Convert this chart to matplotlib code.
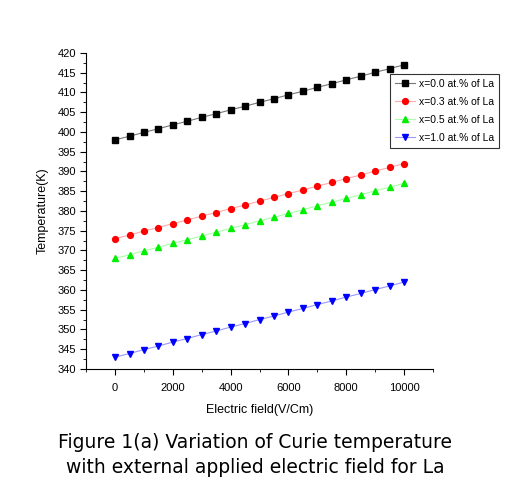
import matplotlib
matplotlib.use('Agg')
import matplotlib.pyplot as plt
from matplotlib.ticker import MultipleLocator

plt.rcParams['font.family'] = ['Liberation Sans', 'DejaVu Sans']

# electric field (V/Cm)
field = [0, 500, 1000, 1500, 2000, 2500, 3000, 3500, 4000, 4500, 5000,
         5500, 6000, 6500, 7000, 7500, 8000, 8500, 9000, 9500, 10000]

# Curie temperature (K) per La content
t_00 = [398.0, 398.9, 399.9, 400.8, 401.8, 402.7, 403.7, 404.6, 405.6, 406.5, 407.5,
        408.4, 409.4, 410.3, 411.3, 412.2, 413.2, 414.1, 415.1, 416.0, 417.0]
t_03 = [373.0, 373.9, 374.9, 375.8, 376.8, 377.7, 378.7, 379.6, 380.6, 381.5, 382.5,
        383.4, 384.4, 385.3, 386.3, 387.2, 388.2, 389.1, 390.1, 391.0, 392.0]
t_05 = [368.0, 368.9, 369.9, 370.8, 371.8, 372.7, 373.7, 374.6, 375.6, 376.5, 377.5,
        378.4, 379.4, 380.3, 381.3, 382.2, 383.2, 384.1, 385.1, 386.0, 387.0]
t_10 = [343.0, 343.9, 344.9, 345.8, 346.8, 347.7, 348.7, 349.6, 350.6, 351.5, 352.5,
        353.4, 354.4, 355.3, 356.3, 357.2, 358.2, 359.1, 360.1, 361.0, 362.0]

labels = ['x=0.0 at.% of La', 'x=0.3 at.% of La', 'x=0.5 at.% of La', 'x=1.0 at.% of La']

fig = plt.figure(figsize=(5.1, 5.04), dpi=100)
ax = fig.add_axes([0.169, 0.268, 0.680, 0.627])

series = [(t_00, 's', 'black', '#777777'),
          (t_03, 'o', 'red', '#ffaaaa'),
          (t_05, '^', '#00ee00', '#aaffaa'),
          (t_10, 'v', 'blue', '#9999ff')]
for (vals, mk, mc, lc), lab in zip(series, labels):
    ax.plot(field, vals, '-', color=lc, lw=0.8, marker=mk, markersize=4.2,
            markerfacecolor=mc, markeredgecolor=mc, label=lab)

ax.set_xlim(-1000, 11000)
ax.set_ylim(340, 420)
ax.xaxis.set_major_locator(MultipleLocator(2000))
ax.xaxis.set_minor_locator(MultipleLocator(1000))
ax.yaxis.set_major_locator(MultipleLocator(5))
ax.yaxis.set_minor_locator(MultipleLocator(2.5))
ax.spines['top'].set_visible(False)
ax.spines['right'].set_visible(False)
ax.tick_params(which='major', direction='out', length=4, labelsize=8)
ax.tick_params(which='minor', direction='out', length=2)
ax.tick_params(axis='x', pad=6)

ax.set_xlabel('Electric field(V/Cm)', fontsize=9, labelpad=8)
ax.set_ylabel('Temperature(K)', fontsize=9, labelpad=6)

leg = ax.legend(loc='upper left', bbox_to_anchor=(0.86, 0.95), fontsize=7.5,
                frameon=True, fancybox=False, edgecolor='black', handlelength=1.9,
                borderpad=0.5, labelspacing=0.75, handletextpad=0.4)
leg.get_frame().set_linewidth(0.8)

fig.text(0.5, 0.112, 'Figure 1(a) Variation of Curie temperature', ha='center',
         fontsize=13.5, family='DejaVu Sans')
fig.text(0.5, 0.062, 'with external applied electric field for La', ha='center',
         fontsize=13.5, family='DejaVu Sans')

fig.savefig('out.png', dpi=100)
